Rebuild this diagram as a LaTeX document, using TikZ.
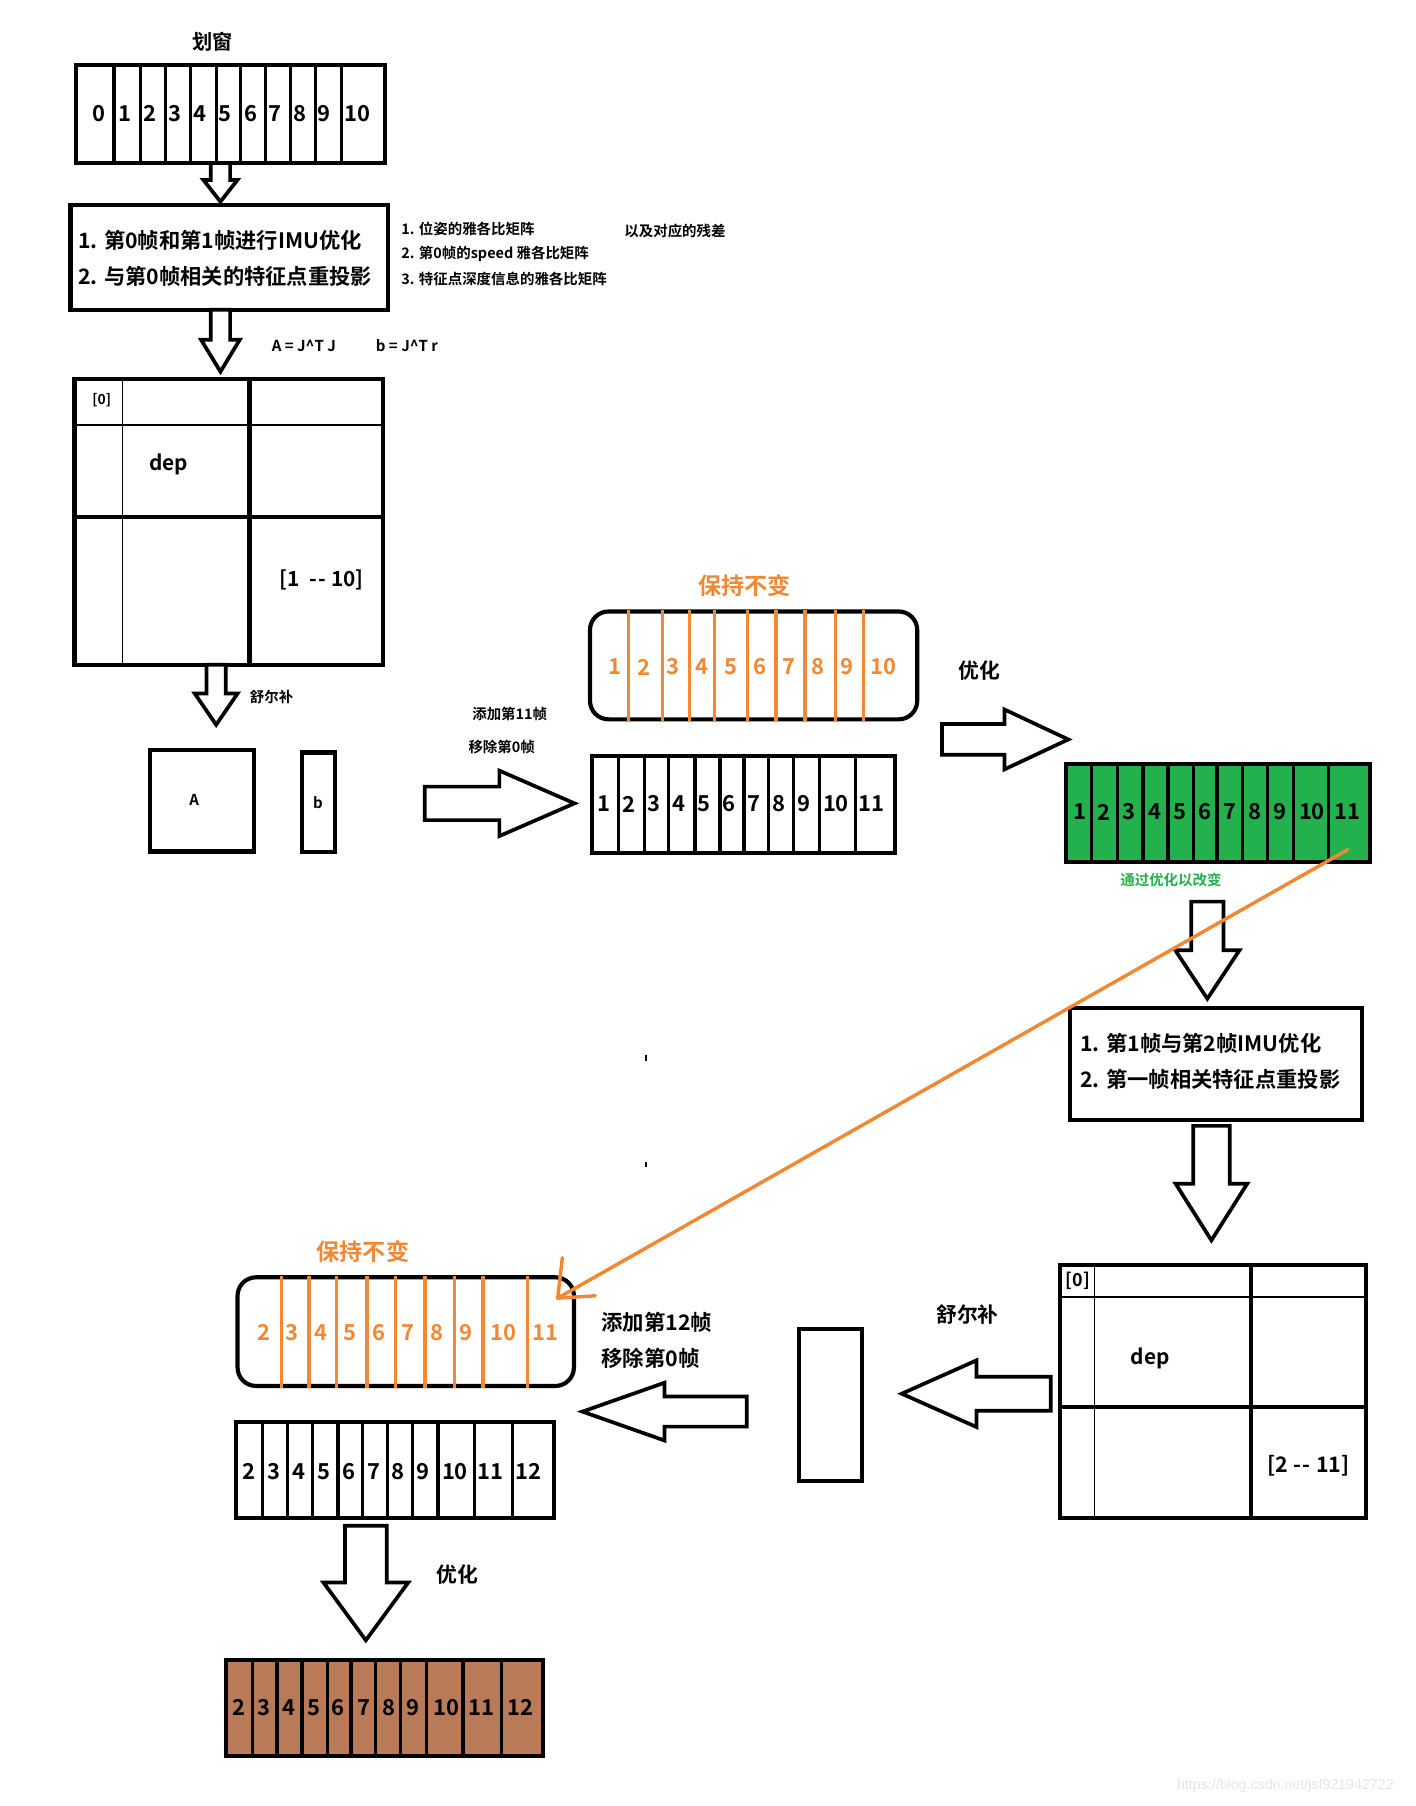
\documentclass[tikz,border=0pt]{standalone}
\usepackage{fontspec}
\setmainfont{Noto Sans CJK SC}[BoldFont={Noto Sans CJK SC Bold}]
\newfontfamily\wmfont{Liberation Sans}
\definecolor{porange}{RGB}{242,135,52}
\definecolor{pgreen}{RGB}{34,177,76}
\definecolor{pbrown}{RGB}{185,122,87}
\newcommand\BlkDown[7]{% name, xc, top, shaft half, head y, head half, tip y
  \draw[harrow] (#2-#4,#3) -- (#2-#4,#5) -- (#2-#6,#5) -- (#2,#7) -- (#2+#6,#5) -- (#2+#4,#5) -- (#2+#4,#3) -- cycle;
  \coordinate (#1) at (#2,#7);}
\newcommand\BlkHoriz[7]{% name, tail x, yc, shaft half, head base x, head half, tip x
  \draw[harrow] (#2,#3-#4) -- (#5,#3-#4) -- (#5,#3-#6) -- (#7,#3) -- (#5,#3+#6) -- (#5,#3+#4) -- (#2,#3+#4) -- cycle;
  \coordinate (#1) at (#7,#3);}
\newcommand\hyh{-\kern0.6pt-}
\begin{document}
\begin{tikzpicture}[x=1pt,y=-1pt,
  bd/.style={line width=3.6pt, line join=miter},
  dv/.style={line width=2.8pt},
  thin/.style={line width=1.2pt},
  harrow/.style={draw, line width=3.2pt, fill=white, line join=miter},
  txt/.style={inner sep=0pt, font=\bfseries\fontsize{#1pt}{#1pt}\selectfont},
  ol/.style={line width=3pt, draw=porange},
]
\useasboundingbox (0,0) rectangle (1225,1562.4);

% ---------- title and top window ----------
\node[txt=17.5] (title) at (184,36) {划窗};
\draw[bd] (66,56.5) rectangle (333,141);
\foreach \x in {98.6,121.7,143.4,164.8,187,208.3,229.6,251.4,273.2,295.3}
  \draw[dv] (\x,56.5) -- (\x,141);
\foreach \x/\n in {86/0,108.3/1,130/2,151.8/3,173/4,194.9/5,216.7/6,238/7,259.8/8,280.7/9,309/10}
  \node[txt=19] (w\n) at (\x,98) {\n};

\BlkDown{a1}{190.7}{141}{8.4}{155.7}{14.7}{174.5}

% ---------- box 2 ----------
\draw[bd] (61,177.3) rectangle (336,268);
\node[txt=18.4, anchor=west] (b2l1) at (67.5,207.6) {1. 第0帧和第1帧进行IMU优化};
\node[txt=18.4, anchor=west] (b2l2) at (67.5,238.8) {2. 与第0帧相关的特征点重投影};
\node[txt=12.5, anchor=west] (n1) at (347,198) {1. 位姿的雅各比矩阵};
\node[txt=12.5, anchor=west] (n2) at (347,220) {2. 第0帧的speed 雅各比矩阵};
\node[txt=12.5, anchor=west] (n3) at (347,241) {3. 特征点深度信息的雅各比矩阵};
\node[txt=12.5, anchor=west] (n4) at (540,200) {以及对应的残差};

\BlkDown{a2}{190.7}{268}{8.4}{294}{16.7}{321.5}
\node[txt=13, anchor=west] (eqA) at (235,299) {A = J\^{}T J};
\node[txt=13, anchor=west] (eqb) at (325,299) {b = J\^{}T r};

% ---------- matrix 1 ----------
\draw[thin] (106,328) -- (106,575);
\draw[thin] (64.5,367.7) -- (331,367.7);
\draw[bd] (215.8,328) -- (215.8,575);
\draw[bd] (64.5,447) -- (331,447);
\draw[bd] (64.5,328) rectangle (331,575);
\node[txt=12] (m1a) at (88,346) {[0]};
\node[txt=18] (m1b) at (146,402) {dep};
\node[txt=18] (m1c) at (278,502) {[1\hspace{9pt}\hyh\hspace{4.5pt}10]};

\BlkDown{a3}{187}{575}{8.3}{600}{18.5}{627}
\node[txt=12.5] (schur1) at (235,603) {舒尔补};

\draw[bd] (130,648.8) rectangle (220,736.7);
\node[txt=13] (matA) at (168,692) {A};
\draw[bd] (261,651) rectangle (290,737);
\node[txt=13] (vecb) at (275,694) {b};

\node[txt=12.5] (add11) at (441,618) {添加第11帧};
\node[txt=12.5] (rm0a) at (434,646) {移除第0帧};
\BlkHoriz{a4}{367.5}{695}{14.5}{432}{28.3}{497}

% ---------- keep unchanged 1..10 ----------
\node[txt=20, text=porange] (keep1) at (644,507) {保持不变};
\draw[bd, rounded corners=16pt] (510.4,529) rectangle (793.5,622.3);
\foreach \x in {543.5,573,596.3,618,646.5,671.3,696.6,722.6,747.2}
  \draw[ol] (\x,527.5) -- (\x,624);
\foreach \x/\n in {532/1,557.1/2,582.5/3,607.3/4,632.4/5,657.4/6,682.8/7,707.6/8,732.4/9,764.7/10}
  \node[txt=19, text=porange] (k\n) at (\x,577) {\n};

% ---------- window 1..11 ----------
\draw[bd] (512,654) rectangle (774.5,738);
\foreach \x in {534.9,557.4,578.4,601.2,622.8,643.6,665,686.3,708.8,739.9}
  \draw[dv] (\x,654) -- (\x,738);
\foreach \x/\n in {522.5/1,544.4/2,565.7/3,587.4/4,609/5,630.9/6,652.2/7,674.2/8,695.5/9,723.2/10,754/11}
  \node[txt=19] (f\n) at (\x,695.5) {\n};

\node[txt=18] (opt1) at (847,580) {优化};
\BlkHoriz{a5}{815}{639.7}{13.3}{869}{25.9}{924.2}

% ---------- green window ----------
\draw[bd, fill=pgreen] (922,661) rectangle (1185,746);
\foreach \x in {944.4,966.8,988.8,1010.4,1032.4,1052.8,1074.6,1096.4,1118.7,1149.6}
  \draw[dv] (\x,661) -- (\x,746);
\foreach \x/\n in {934/1,955/2,977/3,999/4,1020.5/5,1042/6,1064/7,1085.5/8,1107/9,1135/10,1166/11}
  \node[txt=19] (g\n) at (\x,702.5) {\n};
\node[txt=12.5, text=pgreen] (chg) at (1013,761) {通过优化以改变};

\BlkDown{a6}{1044.5}{780}{14}{822}{27.8}{864}

% ---------- box 3 ----------
\draw[bd] (926,872) rectangle (1178,969);
\node[txt=18.4, anchor=west] (b3l1) at (934.5,903) {1. 第1帧与第2帧IMU优化};
\node[txt=18.4, anchor=west] (b3l2) at (934.5,934) {2. 第一帧相关特征点重投影};

\BlkDown{a7}{1048}{974}{15.8}{1024}{31}{1073}

% ---------- matrix 2 ----------
\draw[thin] (947,1094) -- (947,1313);
\draw[thin] (917,1122) -- (1182,1122);
\draw[bd] (1082,1094) -- (1082,1313);
\draw[bd] (917,1217) -- (1182,1217);
\draw[bd] (917,1094) rectangle (1182,1313);
\node[txt=15.5] (m2a) at (932.5,1108) {[0]};
\node[txt=18] (m2b) at (995,1175) {dep};
\node[txt=18.5] (m2c) at (1132,1268) {[2\hspace{5pt}\hyh\hspace{5pt}11]};

\node[txt=18] (schur2) at (837,1137) {舒尔补};
\BlkHoriz{a8}{909}{1205.7}{14.7}{844.7}{28.8}{780.1}

\draw[bd] (691,1150) rectangle (746,1281);

\BlkHoriz{a9}{646}{1221.2}{13}{574.9}{25}{503.9}
\node[txt=18.5, anchor=west] (add12) at (520,1144) {添加第12帧};
\node[txt=18.5, anchor=west] (rm0b) at (520,1175) {移除第0帧};

% ---------- keep unchanged 2..11 ----------
\node[txt=20, text=porange] (keep2) at (314,1083) {保持不变};
\draw[bd, rounded corners=16pt] (205.5,1105) rectangle (496.5,1199);
\foreach \x in {243.3,267.3,291.3,317.5,342.3,367.5,393,417.7,456.5}
  \draw[ol] (\x,1103.5) -- (\x,1200.5);
\foreach \x/\n in {228/2,253/3,277.8/4,303.1/5,328.1/6,353.1/7,378.1/8,403.5/9,435.3/10,471.5/11}
  \node[txt=19, text=porange] (kk\n) at (\x,1153) {\n};

% ---------- window 2..12 ----------
\draw[bd] (204,1230) rectangle (479.5,1313.5);
\foreach \x in {227,248.5,270.6,292.4,313.6,335,357.1,378.9,410.8,443.5}
  \draw[dv] (\x,1230) -- (\x,1313.5);
\foreach \x/\n in {215/2,236.7/3,258.3/4,279.9/5,301.6/6,323.2/7,344.2/8,365.8/9,393.6/10,424.5/11,457.5/12}
  \node[txt=19] (h\n) at (\x,1273) {\n};

\BlkDown{a10}{316.5}{1320}{18}{1369}{36.7}{1419}
\node[txt=18] (opt2) at (396,1362) {优化};

% ---------- brown window ----------
\draw[bd, fill=pbrown] (195.5,1436) rectangle (469.5,1519);
\foreach \x in {218.2,239.7,261.3,283,303.7,325,346.8,368.8,400.5,434}
  \draw[dv] (\x,1436) -- (\x,1519);
\foreach \x/\n in {206.5/2,228/3,250/4,271.5/5,292.5/6,314.5/7,336.5/8,357.5/9,386/10,416.5/11,450/12}
  \node[txt=19] (r\n) at (\x,1477.5) {\n};

% ---------- orange connector ----------
\coordinate (ostart) at (1166,735);
\coordinate (oend) at (482.5,1123);
\draw[ol, line cap=round] (ostart) -- (oend);
\draw[ol, line cap=round, line join=round] (486.5,1088) -- (oend) -- (515,1121);

% small marks
\draw[line width=1.6pt] (558.5,913) -- (558.5,918);
\draw[line width=1.6pt] (558.5,1005) -- (558.5,1010);

% watermark
\node[inner sep=0pt, font=\wmfont\fontsize{12.3pt}{12.3pt}\selectfont, text=black!10] (wm) at (1112,1545) {https://blog.csdn.net/jsf921942722};
\end{tikzpicture}
\end{document}
